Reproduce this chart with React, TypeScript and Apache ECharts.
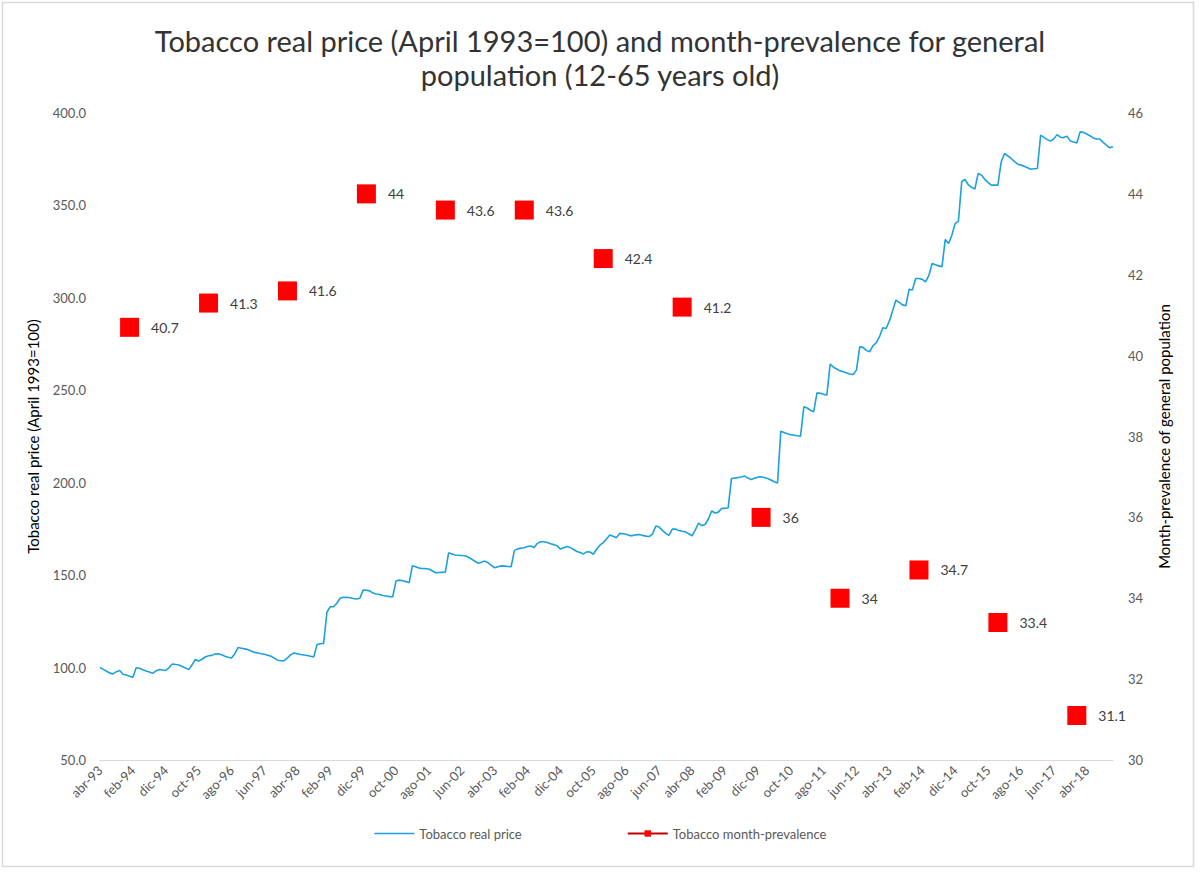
import React, { useEffect, useRef } from "react";
import * as echarts from "echarts";

// Spanish month abbreviations used for the monthly category axis
const monthNames = ["ene", "feb", "mar", "abr", "may", "jun", "jul", "ago", "sep", "oct", "nov", "dic"];

// Monthly categories: abr-93 ... dic-18
const categories: string[] = [];
for (let y = 1993; y <= 2018; y++) {
  for (let mi = 0; mi < 12; mi++) {
    if (y === 1993 && mi < 3) continue;
    categories.push(`${monthNames[mi]}-${String(y % 100).padStart(2, "0")}`);
  }
}

// Tobacco real price index (April 1993 = 100), monthly
const priceValues = [
  100.0, 99.0, 98.0, 97.0, 96.6, 97.8, 98.4, 96.4, 96.0, 95.3, 94.8, 99.9,
  99.6, 98.8, 98.2, 97.6, 96.9, 98.2, 99.0, 98.7, 98.4, 100.0, 101.9, 101.7,
  101.4, 100.6, 99.8, 98.9, 101.5, 104.4, 103.6, 104.5, 105.7, 106.4, 106.6, 107.3,
  107.5, 106.9, 106.1, 105.6, 105.2, 107.5, 110.9, 110.5, 110.1, 109.7, 109.0, 108.2,
  107.9, 107.5, 107.2, 106.7, 106.1, 105.1, 104.0, 103.7, 103.7, 105.2, 107.0, 107.9,
  107.5, 107.1, 106.8, 106.5, 106.1, 105.8, 112.5, 112.9, 113.1, 130.0, 132.9, 132.9,
  134.8, 137.5, 138.0, 138.0, 137.8, 137.4, 137.1, 137.5, 141.9, 141.8, 141.5, 140.3,
  139.8, 139.5, 139.0, 138.7, 138.4, 138.3, 146.8, 147.3, 147.0, 146.5, 145.9, 155.1,
  154.5, 153.8, 153.6, 153.5, 153.3, 152.4, 151.3, 151.4, 151.5, 151.6, 162.1, 161.5,
  160.9, 160.8, 160.6, 160.5, 159.7, 158.7, 157.5, 156.4, 157.0, 157.6, 156.7, 155.3,
  154.0, 154.5, 155.0, 154.9, 154.7, 154.5, 163.4, 164.2, 164.6, 164.8, 165.5, 165.8,
  165.0, 167.2, 168.1, 168.1, 167.7, 167.0, 166.5, 165.9, 164.1, 164.8, 165.5, 164.9,
  163.9, 162.8, 162.2, 161.5, 162.6, 162.5, 161.3, 164.0, 166.2, 167.6, 169.6, 171.7,
  171.0, 170.2, 172.6, 172.4, 172.1, 171.4, 171.4, 171.8, 172.0, 171.5, 171.1, 170.9,
  172.3, 176.6, 176.0, 174.2, 172.6, 171.5, 174.9, 175.0, 174.1, 173.7, 173.4, 172.4,
  171.3, 174.5, 178.2, 176.8, 177.4, 180.5, 184.8, 183.6, 184.1, 186.1, 186.1, 186.5,
  202.3, 202.5, 202.8, 203.1, 203.6, 202.5, 201.8, 202.4, 203.0, 203.2, 202.8, 202.3,
  201.5, 200.5, 199.9, 227.9, 227.2, 226.5, 226.0, 225.7, 225.4, 225.2, 241.1, 240.4,
  239.2, 238.4, 248.6, 248.4, 247.8, 247.4, 264.2, 262.5, 261.5, 260.5, 260.0, 259.4,
  258.8, 258.5, 260.9, 273.5, 273.2, 271.6, 270.8, 274.0, 275.6, 279.0, 283.8, 283.4,
  287.4, 293.0, 298.8, 297.5, 296.2, 295.7, 304.6, 304.2, 310.5, 310.5, 310.0, 308.7,
  312.0, 318.6, 317.9, 317.3, 316.8, 331.6, 329.4, 333.9, 340.2, 341.5, 362.8, 364.1,
  361.2, 359.8, 358.8, 367.3, 366.4, 364.1, 362.5, 361.0, 361.0, 361.0, 373.5, 378.1,
  376.8, 375.4, 373.8, 372.3, 371.8, 371.2, 370.4, 369.6, 369.8, 370.0, 388.0, 386.8,
  385.6, 384.8, 386.0, 388.3, 386.9, 386.7, 387.5, 384.9, 384.3, 383.8, 389.8, 389.5,
  388.6, 387.7, 386.5, 385.9, 385.9, 384.1, 382.6, 381.2, 381.8,
];

// Survey months and month-prevalence (%) of tobacco use, 12-65 years old
const prevalenceMonths = [
  "ene-94", "ene-96", "ene-98", "ene-00", "ene-02", "ene-04", "ene-06",
  "ene-08", "ene-10", "ene-12", "ene-14", "ene-16", "ene-18",
];
const prevalenceValues = [40.7, 41.3, 41.6, 44, 43.6, 43.6, 42.4, 41.2, 36, 34, 34.7, 33.4, 31.1];

// Left and right axis ranges
const priceAxis = { min: 50, max: 400, interval: 50 };
const prevalenceAxis = { min: 30, max: 46, interval: 2 };

const FONT = "Lato, 'Liberation Sans', sans-serif";
const PRICE_COLOR = "#1CA1DD";

export default function App() {
  const ref = useRef<HTMLDivElement>(null);

  useEffect(() => {
    if (!ref.current) return;
    const chart = echarts.init(ref.current, null, { renderer: "svg" });

    const prevalenceSeries = categories.map((c) => {
      const i = prevalenceMonths.indexOf(c);
      return i >= 0 ? prevalenceValues[i] : null;
    });

    chart.setOption({
      animation: false,
      backgroundColor: "#ffffff",
      textStyle: { fontFamily: FONT },
      graphic: [
        {
          type: "rect",
          silent: true,
          shape: { x: 2.5, y: 2.5, width: 1191, height: 864 },
          style: { fill: "none", stroke: "#D9D9D9", lineWidth: 1.5 },
        },
      ],
      title: {
        text: "Tobacco real price (April 1993=100) and month-prevalence for general\npopulation (12-65 years old)",
        left: "center",
        top: 18,
        textStyle: {
          fontFamily: FONT,
          fontSize: 29,
          fontWeight: "normal",
          color: "#333333",
          lineHeight: 34,
        },
      },
      legend: {
        bottom: 28,
        left: "center",
        itemGap: 105,
        itemWidth: 40,
        itemHeight: 8,
        textStyle: { fontFamily: FONT, fontSize: 13, color: "#595959" },
        data: [
          {
            name: "Tobacco real price",
            itemStyle: { opacity: 0 },
            lineStyle: { color: PRICE_COLOR, width: 1.6 },
          },
          { name: "Tobacco month-prevalence" },
        ],
      },
      grid: { left: 100, right: 87, top: 113, bottom: 113, containLabel: false },
      xAxis: {
        type: "category",
        data: categories,
        boundaryGap: false,
        axisLine: { lineStyle: { color: "#D9D9D9", width: 1 } },
        axisTick: { show: false },
        axisLabel: {
          interval: 9,
          rotate: 45,
          fontSize: 13,
          color: "#595959",
          margin: 8,
          fontFamily: FONT,
        },
        splitLine: { show: false },
      },
      yAxis: [
        {
          type: "value",
          min: priceAxis.min,
          max: priceAxis.max,
          interval: priceAxis.interval,
          name: "Tobacco real price (April 1993=100)",
          nameLocation: "middle",
          nameRotate: 90,
          nameGap: 60,
          nameTextStyle: { fontFamily: FONT, fontSize: 15, color: "#000000" },
          axisLine: { show: false },
          axisTick: { show: false },
          splitLine: { show: false },
          axisLabel: {
            formatter: (v: number) => v.toFixed(1),
            fontSize: 13,
            color: "#595959",
            margin: 14,
            fontFamily: FONT,
          },
        },
        {
          type: "value",
          min: prevalenceAxis.min,
          max: prevalenceAxis.max,
          interval: prevalenceAxis.interval,
          name: "Month-prevalence of general population",
          nameLocation: "middle",
          nameRotate: 90,
          nameGap: 43,
          nameTextStyle: { fontFamily: FONT, fontSize: 15, color: "#000000" },
          axisLine: { show: false },
          axisTick: { show: false },
          splitLine: { show: false },
          axisLabel: {
            fontSize: 13,
            color: "#595959",
            margin: 15,
            fontFamily: FONT,
          },
        },
      ],
      series: [
        {
          name: "Tobacco real price",
          type: "line",
          yAxisIndex: 0,
          data: priceValues,
          showSymbol: false,
          symbol: "none",
          lineStyle: { color: PRICE_COLOR, width: 1.6 },
          itemStyle: { color: PRICE_COLOR },
        },
        {
          name: "Tobacco month-prevalence",
          type: "line",
          yAxisIndex: 1,
          data: prevalenceSeries,
          connectNulls: false,
          showSymbol: true,
          showAllSymbol: true,
          symbol: "rect",
          symbolSize: 19,
          lineStyle: { color: "#C00000", width: 3 },
          itemStyle: { color: "#FF0000" },
          label: {
            show: true,
            position: "right",
            distance: 12,
            fontSize: 14,
            color: "#404040",
            fontFamily: FONT,
            formatter: (p: any) => String(p.value),
          },
        },
      ],
    });

    return () => chart.dispose();
  }, []);

  return (
    <div style={{ position: "fixed", left: 0, top: 0, width: 1200, height: 873, background: "#fff" }}>
      <div ref={ref} style={{ width: 1200, height: 873 }} />
    </div>
  );
}
